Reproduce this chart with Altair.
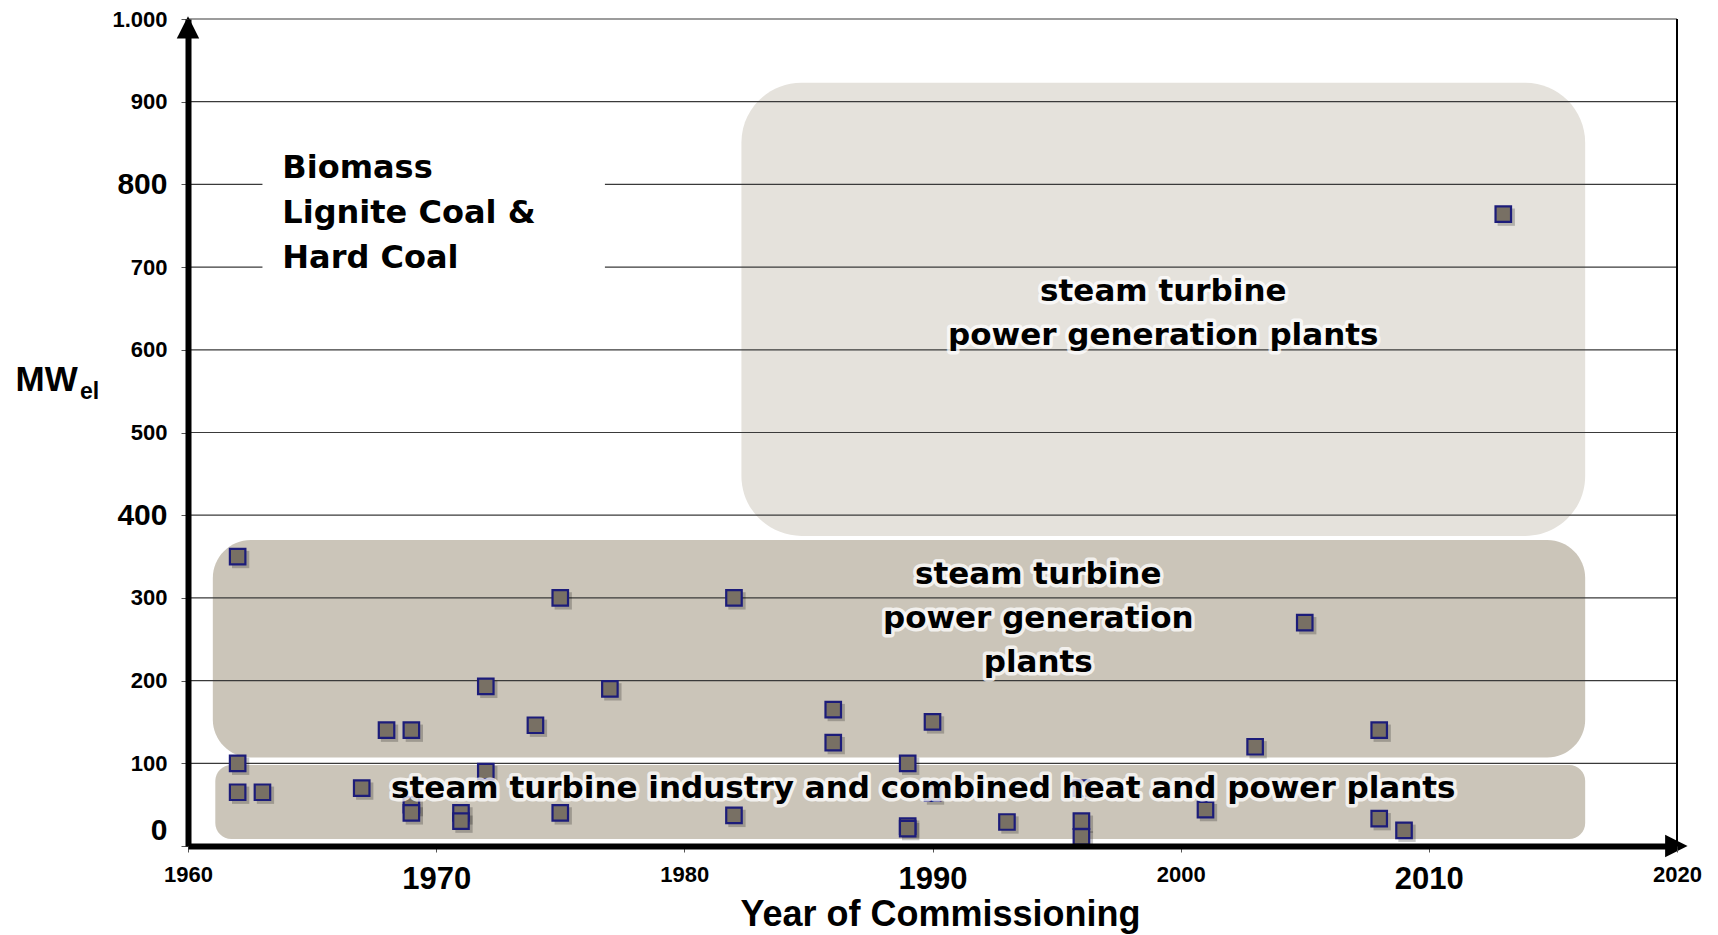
import altair as alt
import pandas as pd

# ---- data ----
pt_year = [1962, 1962, 1962, 1963, 1967, 1968, 1969, 1969, 1969, 1971, 1971, 1972, 1972,
           1974, 1975, 1975, 1977, 1982, 1982, 1986, 1986, 1989, 1989, 1989, 1990, 1990,
           1993, 1996, 1996, 1996, 2001, 2003, 2005, 2008, 2008, 2009, 2013]
pt_mw = [350, 100, 65, 65, 70, 140, 140, 50, 40, 40, 30, 193, 90,
         146, 300, 40, 190, 300, 37, 165, 125, 100, 24, 21, 150, 64,
         29, 70, 30, 11, 44, 120, 270, 140, 33, 19, 764]

reg_name = ["top", "mid", "bot"]
reg_x0 = [1982.3, 1961.0, 1961.1]
reg_x1 = [2016.3, 2016.3, 2016.3]
reg_y0 = [375, 107, 8.5]
reg_y1 = [923, 370, 98]
reg_color = ["#e5e2dc", "#cbc5b9", "#cbc5b9"]
reg_radius = [60, 38, 16]

grid_values = [100, 200, 300, 400, 500, 600, 700, 800, 900, 1000]
x_ticks = [1960, 1970, 1980, 1990, 2000, 2010, 2020]
y_ticks = [0, 100, 200, 300, 400, 500, 600, 700, 800, 900, 1000]

label_lines = [["Biomass", "Lignite Coal &", "Hard Coal"],
               ["steam turbine", "power generation plants"],
               ["steam turbine", "power generation", "plants"],
               ["steam turbine industry and combined heat and power plants"]]
label_x = [1963.8, 1999.3, 1994.26, 1989.63]
label_y = [808, 658.6, 317, 57.5]
label_align = ["left", "center", "center", "center"]

cover_x0, cover_x1, cover_y0, cover_y1 = [1963.0], [1976.8], [650], [850]

# ---- tables ----
pts = pd.DataFrame({"x": pt_year, "y": pt_mw})
regs = pd.DataFrame({"name": reg_name, "x": reg_x0, "x2": reg_x1, "y": reg_y0, "y2": reg_y1,
                     "c": reg_color})
grid = pd.DataFrame({"y": grid_values, "x": [x_ticks[0]] * len(grid_values),
                     "x2": [x_ticks[-1]] * len(grid_values)})
labels = pd.DataFrame({"t": label_lines, "x": label_x, "y": label_y, "a": label_align})
cover = pd.DataFrame({"x": cover_x0, "x2": cover_x1, "y": cover_y0, "y2": cover_y1})
border = pd.DataFrame({"x": [x_ticks[-1]], "y": [y_ticks[0]], "y2": [y_ticks[-1]]})
arrow_up = pd.DataFrame({"x": [x_ticks[0]], "y": [y_ticks[-1]]})
arrow_right = pd.DataFrame({"x": [x_ticks[-1]], "y": [y_ticks[0]]})

FONT = "Liberation Sans"
AFONT = "DejaVu Sans"

xscale = alt.Scale(domain=[1960, 2020], nice=False, zero=False)
yscale = alt.Scale(domain=[0, 1000], nice=False)

xaxis = alt.Axis(
    values=x_ticks, format="d", grid=False, labelFlush=False, labelOverlap=False,
    labelFont=FONT, labelFontWeight="bold", labelColor="black",
    labelFontSize={"condition": {"test": "(datum.value - 1970) % 20 == 0", "value": 31}, "value": 22},
    labelPadding=12, labelBaseline="top",
    tickSize=6, tickColor="#555555", tickWidth=1,
    domainColor="black", domainWidth=6,
    title="Year of Commissioning", titleFont=FONT, titleFontWeight="bold", titleFontSize=36,
    titleColor="black", titleX=752, titleY=79, titleBaseline="alphabetic", titleAlign="center",
    zindex=1,
)
yaxis = alt.Axis(
    values=y_ticks, grid=False, labelFlush=False, labelOverlap=False,
    labelExpr="datum.value == 1000 ? '1.000' : datum.label",
    labelFont=FONT, labelFontWeight="bold", labelColor="black",
    labelFontSize={"condition": {"test": "datum.value % 400 == 0", "value": 30}, "value": 22},
    labelOffset={"condition": {"test": "datum.value == 0", "value": -16}, "value": 0},
    labelPadding=14, tickSize=7, tickColor="#555555", tickWidth=1,
    domainColor="black", domainWidth=6,
    title="MW", titleFont=FONT, titleFontWeight="bold", titleFontSize=35, titleColor="black",
    titleAngle=0, titleX=-173, titleY=371, titleAlign="left", titleBaseline="alphabetic",
    zindex=1,
)

X = alt.X("x:Q", scale=xscale, axis=xaxis)
Y = alt.Y("y:Q", scale=yscale, axis=yaxis)


def rect_layer(name, radius):
    return alt.Chart(regs).transform_filter(alt.datum.name == name).mark_rect(
        cornerRadius=radius
    ).encode(x=X, x2="x2:Q", y=Y, y2="y2:Q", color=alt.Color("c:N", scale=None))


rects = [rect_layer(n, r) for n, r in zip(reg_name, reg_radius)]

gridlines = alt.Chart(grid).mark_rule(color="#3a3a3a", strokeWidth=1.2).encode(
    x=X, x2="x2:Q", y=Y)

cover_rect = alt.Chart(cover).mark_rect(color="white").encode(x=X, x2="x2:Q", y=Y, y2="y2:Q")

shadow = alt.Chart(pts).mark_point(
    shape="square", filled=True, color="#000000", opacity=0.22, size=300
).encode(x=X, y=Y, xOffset=alt.value(3), yOffset=alt.value(3))

points = alt.Chart(pts).mark_point(
    shape="square", filled=True, fill="#787064", stroke="#1c1c7a", strokeWidth=2.2,
    size=240, opacity=1,
).encode(x=X, y=Y)

halo = alt.Chart(labels).transform_filter(alt.datum.a == "center").mark_text(
    font=AFONT, fontWeight="bold", fontSize=31, lineHeight=44, align="center",
    baseline="alphabetic", fill="white", stroke="white", strokeWidth=7,
    strokeOpacity=0.75, strokeJoin="round",
).encode(x=X, y=Y, text="t")

txt_center = alt.Chart(labels).transform_filter(alt.datum.a == "center").mark_text(
    font=AFONT, fontWeight="bold", fontSize=31, lineHeight=44, align="center",
    baseline="alphabetic", color="black",
).encode(x=X, y=Y, text="t")

txt_left = alt.Chart(labels).transform_filter(alt.datum.a == "left").mark_text(
    font=AFONT, fontWeight="bold", fontSize=32, lineHeight=45, align="left",
    baseline="alphabetic", color="black",
).encode(x=X, y=Y, text="t")

border_rule = alt.Chart(border).mark_rule(color="black", strokeWidth=2).encode(
    x=X, y=Y, y2="y2:Q")

arr_up = alt.Chart(arrow_up).mark_point(
    shape="M0,-0.16L-0.66,1.15L0.66,1.15Z", filled=True, color="black", size=1156, opacity=1
).encode(x=X, y=Y)

arr_right = alt.Chart(arrow_right).mark_point(
    shape="M0.62,0L-0.7,-0.66L-0.7,0.66Z", filled=True, color="black", size=1156, opacity=1
).encode(x=X, y=Y)

sub_el = alt.Chart(pd.DataFrame({"t": ["el"]})).mark_text(
    font=FONT, fontWeight="bold", fontSize=23, align="left", baseline="alphabetic",
    color="black",
).encode(text="t", x=alt.value(-108), y=alt.value(380))

chart = alt.layer(
    *rects, gridlines, cover_rect, shadow, points, halo, txt_center, txt_left,
    border_rule, arr_up, arr_right, sub_el,
).properties(
    width=1489, height=827,
    autosize=alt.AutoSizeParams(type="none"),
    padding={"left": 180, "top": 11, "right": 30, "bottom": 88},
    background="white",
).configure_view(stroke=None)

chart.save("out.html", embed_options={"renderer": "svg", "actions": False})
